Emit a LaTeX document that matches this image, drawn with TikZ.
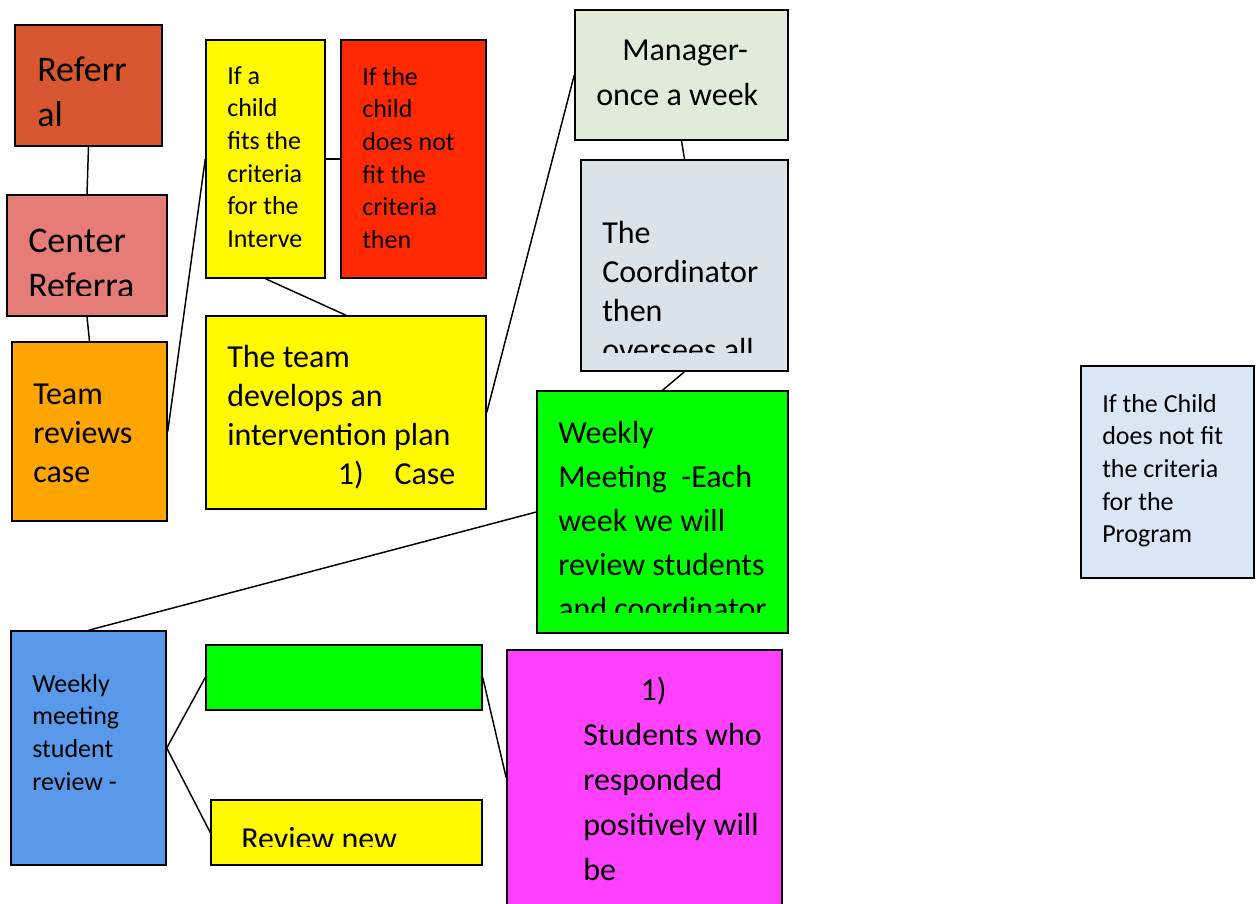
\documentclass[tikz,border=0pt]{standalone}
\usepackage{fontspec}
\setmainfont{Carlito}
\usetikzlibrary{fit}
\definecolor{cRef}{RGB}{217,87,48}
\definecolor{cCen}{RGB}{230,124,120}
\definecolor{cOra}{RGB}{255,165,0}
\definecolor{cYel}{RGB}{255,250,0}
\definecolor{cRed}{RGB}{255,40,0}
\definecolor{cMan}{RGB}{226,235,218}
\definecolor{cCoo}{RGB}{218,227,233}
\definecolor{cGrn}{RGB}{0,255,0}
\definecolor{cLbl}{RGB}{219,230,244}
\definecolor{cBlu}{RGB}{88,153,233}
\definecolor{cMag}{RGB}{255,64,255}
\tikzset{
  box/.style={draw=black, line width=1.1pt, inner sep=0pt},
  txt/.style={anchor=base west, inner sep=0pt, text=black},
  conn/.style={draw=black, line width=1.1pt},
  bigfont/.style={font=\fontsize{27}{33.75}\selectfont},
  medfont/.style={font=\fontsize{24}{29.25}\selectfont},
  medwide/.style={font=\fontsize{24}{33}\selectfont},
  medwider/.style={font=\fontsize{24}{33.75}\selectfont},
  smallfont/.style={font=\fontsize{19.5}{24.5}\selectfont},
}
\begin{document}
\begin{tikzpicture}[x=0.75pt,y=-0.75pt]
\clip (0,0) rectangle (1256,903);
\useasboundingbox (0,0) rectangle (1256,903);
% boxes
\node[box, fill=cRef, fit={(15,25) (162,146)}] (ref) {};
\node[box, fill=cCen, fit={(7,195) (167,316)}] (cen) {};
\node[box, fill=cOra, fit={(12,342) (167,521)}] (team) {};
\node[box, fill=cYel, fit={(206,40) (325,278)}] (fits) {};
\node[box, fill=cRed, fit={(341,40) (486,278)}] (nofit) {};
\node[box, fill=cYel, fit={(206,316) (486,509)}] (plan) {};
\node[box, fill=cMan, fit={(575,10) (788,140)}] (mgr) {};
\node[box, fill=cCoo, fit={(581,160) (788,371)}] (coord) {};
\node[box, fill=cGrn, fit={(537,391) (788,633)}] (weekly) {};
\node[box, fill=cLbl, fit={(1081,366) (1254,578)}] (notprog) {};
\node[box, fill=cBlu, fit={(11,631) (166,865)}] (review) {};
\node[box, fill=cGrn, fit={(206,645) (482,710)}] (grn) {};
\node[box, fill=cYel, fit={(211,800) (482,865)}] (newrev) {};
\node[box, fill=cMag, fit={(507,650) (782,906)}] (mag) {};
% connectors
\draw[conn] (ref.south) -- (cen.north);
\draw[conn] (cen.south) -- (team.north);
\draw[conn] (team.east) -- (fits.west);
\draw[conn] (fits.east) -- (nofit.west);
\draw[conn] (fits.south) -- (plan.north);
\draw[conn] (plan.east) -- (mgr.west);
\draw[conn] (mgr.south) -- (coord.north);
\draw[conn] (coord.south) -- (weekly.north);
\draw[conn] (weekly.west) -- (review.north);
\draw[conn] (review.east) -- (grn.west);
\draw[conn] (review.east) -- (newrev.west);
\draw[conn] (grn.east) -- (mag.west);
% texts
\node[txt, bigfont] (tref) at (37,81) {\parbox[t]{150pt}{Referr\\al}};
\begin{scope}
  \clip (7,195) rectangle (167,295);
  \node[txt, bigfont] (tcen) at (28,252) {\parbox[t]{150pt}{Center\\Referra}};
\end{scope}
\node[txt, medfont] (tteam) at (33,404) {\parbox[t]{150pt}{Team\\reviews\\case}};
\node[txt, smallfont] (tfits) at (227,84) {\parbox[t]{150pt}{If a\\child\\fits the\\criteria\\for the\\Interve}};
\node[txt, smallfont] (tnofit) at (362,85) {\parbox[t]{150pt}{If the\\child\\does not\\fit the\\criteria\\then}};
\node[txt, medfont] (tplan) at (227,367) {\parbox[t]{300pt}{The team\\develops an\\intervention plan\\\hspace*{83pt}1)\hspace{23pt}Case}};
\node[txt, medwider] (tmgr) at (596,60) {\parbox[t]{200pt}{\hspace*{19.5pt}Manager-\\once a week}};
\begin{scope}
  \clip (581,160) rectangle (788,352);
  \node[txt, medfont] (tcoord) at (602,243) {\parbox[t]{200pt}{The\\Coordinator\\then\\oversees all}};
\end{scope}
\begin{scope}
  \clip (537,391) rectangle (788,612);
  \node[txt, medwide] (tweekly) at (558,443) {\parbox[t]{250pt}{Weekly\\Meeting\ \ -Each\\week we will\\review students\\and coordinator}};
\end{scope}
\node[txt, smallfont] (tnotprog) at (1102,412) {\parbox[t]{150pt}{If the Child\\does not fit\\the criteria\\for the\\Program}};
\node[txt, smallfont] (treview) at (32,692) {\parbox[t]{150pt}{Weekly\\meeting\\student\\review -}};
\begin{scope}
  \clip (211,800) rectangle (482,846);
  \node[txt, medfont] (tnewrev) at (241,849) {Review new};
\end{scope}
\node[txt, medwider] (tmag) at (583,700) {\parbox[t]{250pt}{\hspace*{43pt}1)\\Students who\\responded\\positively will\\be}};
\end{tikzpicture}
\end{document}
